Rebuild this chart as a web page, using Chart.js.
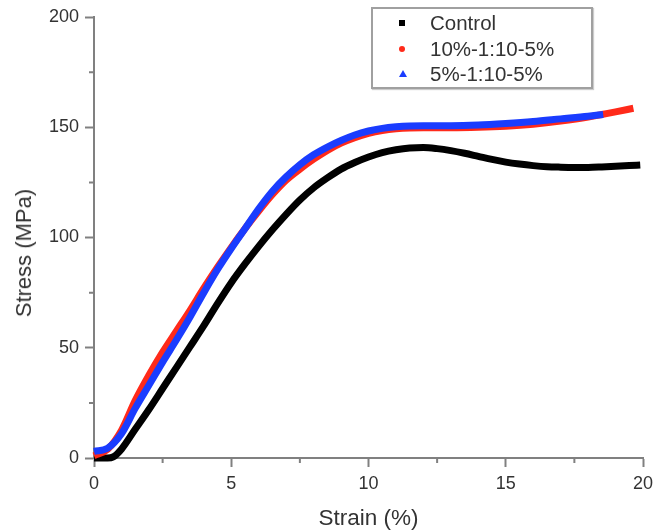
<!DOCTYPE html>
<html>
<head>
<meta charset="utf-8">
<script src="https://cdn.jsdelivr.net/npm/chart.js@4.4.1/dist/chart.umd.min.js"></script>
<style>
  html, body { margin: 0; padding: 0; background: #fff; }
  #wrap { position: relative; width: 654px; height: 532px; }
  #legend {
    position: absolute; left: 371px; top: 7px; width: 218px; height: 78px;
    border: 2px solid #a0a0a0; box-shadow: 1px 1px 1px #ccc; background: #fff;
    font-family: "Liberation Sans", Arial, sans-serif; font-size: 20.5px; color: #333;
  }
  .row { position: absolute; left: 0; height: 22px; line-height: 22px; }
  .mk { position: absolute; left: 26px; top: 8px; width: 6px; height: 6px; }
  .txt { position: absolute; left: 57px; top: 0; white-space: nowrap; }
  #ytitle {
    position: absolute; left: 24px; top: 253px; transform: translate(-50%, -50%) rotate(-90deg);
    font-family: "Liberation Sans", Arial, sans-serif; font-size: 22px; color: #333; white-space: nowrap;
  }
</style>
</head>
<body>
<div id="wrap">
  <canvas id="c" width="654" height="532"></canvas>
  <div id="ytitle">Stress (MPa)</div>
  <div id="legend">
    <div class="row" style="top:3px"><div class="mk" style="background:#000"></div><div class="txt">Control</div></div>
    <div class="row" style="top:29px"><div class="mk" style="background:#ff2a1a;border-radius:50%"></div><div class="txt">10%-1:10-5%</div></div>
    <div class="row" style="top:54px"><div class="mk" style="width:0;height:0;left:26px;top:7px;border-left:4px solid transparent;border-right:4px solid transparent;border-bottom:7px solid #1a3cff;background:none"></div><div class="txt">5%-1:10-5%</div></div>
  </div>
</div>
<script>
// Series names
const seriesNames = ["Control", "10%-1:10-5%", "5%-1:10-5%"];

// Control (black): strain (%) and stress (MPa)
const controlStrain = [0, 0.5, 0.7, 1.0, 1.5, 2.0, 2.5, 3.0, 3.5, 4.0, 4.5, 5.0, 5.5, 6.0, 6.5, 7.0, 7.5, 8.0, 8.5, 9.0, 9.5, 10.0, 10.5, 11.0, 11.5, 12.0, 12.5, 13.0, 13.5, 14.0, 14.5, 15.0, 15.5, 16.0, 16.5, 17.0, 17.5, 18.0, 18.5, 19.0, 19.5, 19.9];
const controlStress = [0, 0, 0.5, 4, 13, 22, 31.5, 41, 50.5, 60, 70, 79.5, 88, 96, 103.5, 110.5, 117, 122.5, 127, 131, 134, 136.5, 138.5, 139.8, 140.6, 140.8, 140.3, 139.4, 138.2, 136.8, 135.4, 134.2, 133.3, 132.6, 132.1, 131.9, 131.8, 131.8, 132.0, 132.3, 132.6, 132.9];

// 10%-1:10-5% (red)
const redStrain = [0, 0.5, 1.0, 1.5, 2.0, 2.5, 3.0, 3.5, 4.0, 4.5, 5.0, 5.5, 6.0, 6.5, 7.0, 7.5, 8.0, 8.5, 9.0, 9.5, 10.0, 10.5, 11.0, 11.5, 12.0, 13.0, 14.0, 15.0, 16.0, 17.0, 18.0, 18.5, 19.0, 19.65];
const redStress = [1, 4, 12.5, 26, 37.5, 48, 57.5, 67, 77, 86.5, 95.5, 104, 112, 119.5, 126, 131, 135.5, 139.5, 142.8, 145.3, 147.2, 148.5, 149.3, 149.7, 149.8, 149.8, 150, 150.5, 151.4, 152.8, 154.6, 155.8, 157, 158.6];

// 5%-1:10-5% (blue)
const blueStrain = [0, 0.5, 1.0, 1.5, 2.0, 2.5, 3.0, 3.5, 4.0, 4.5, 5.0, 5.5, 6.0, 6.5, 7.0, 7.5, 8.0, 8.5, 9.0, 9.5, 10.0, 10.5, 11.0, 11.5, 12.0, 13.0, 14.0, 15.0, 16.0, 17.0, 18.0, 18.55];
const blueStress = [3, 4.5, 11, 22.5, 33, 43.5, 53.5, 64, 75, 85.5, 95, 104, 113, 121, 127.5, 133, 137.5, 141, 144, 146.5, 148.3, 149.5, 150.2, 150.6, 150.7, 150.7, 151, 151.7, 152.6, 153.8, 155, 155.8];

// Axis ticks
const xMajorTicks = [0, 5, 10, 15, 20];
const xMinorTicks = [2.5, 7.5, 12.5, 17.5];
const yMajorTicks = [0, 50, 100, 150, 200];
const yMinorTicks = [25, 75, 125, 175];

const toXY = (xs, ys) => xs.map((x, i) => ({x: x, y: ys[i]}));

const AXIS_COLOR = '#808080';
const TEXT_COLOR = '#333333';
const FONT = '"Liberation Sans", Arial, sans-serif';

const minorTicks = {
  id: 'minorTicks',
  afterDraw(chart) {
    const ctx = chart.ctx;
    const xs = chart.scales.x, ys = chart.scales.y;
    ctx.save();
    ctx.strokeStyle = AXIS_COLOR;
    ctx.lineWidth = 2;
    ctx.beginPath();
    xMinorTicks.forEach(v => {
      const px = xs.getPixelForValue(v);
      ctx.moveTo(px, chart.chartArea.bottom);
      ctx.lineTo(px, chart.chartArea.bottom + 5);
    });
    yMinorTicks.forEach(v => {
      const py = ys.getPixelForValue(v);
      ctx.moveTo(chart.chartArea.left, py);
      ctx.lineTo(chart.chartArea.left - 5, py);
    });
    ctx.stroke();
    ctx.restore();
  }
};

const lineStyle = { borderWidth: 7, pointRadius: 0, cubicInterpolationMode: 'monotone', clip: 10 };

new Chart(document.getElementById('c'), {
  type: 'line',
  data: {
    datasets: [
      Object.assign({ label: seriesNames[0], data: toXY(controlStrain, controlStress), borderColor: '#000000', backgroundColor: '#000000', order: 2 }, lineStyle),
      Object.assign({ label: seriesNames[1], data: toXY(redStrain, redStress), borderColor: '#ff2a1a', backgroundColor: '#ff2a1a', order: 1 }, lineStyle),
      Object.assign({ label: seriesNames[2], data: toXY(blueStrain, blueStress), borderColor: '#1a3cff', backgroundColor: '#1a3cff', order: 0 }, lineStyle)
    ]
  },
  options: {
    responsive: false,
    animation: false,
    layout: { padding: { top: 17, right: 11, left: 0, bottom: 0 } },
    plugins: { legend: { display: false }, tooltip: { enabled: false } },
    scales: {
      x: {
        type: 'linear', min: 0, max: 20,
        afterBuildTicks: s => { s.ticks = xMajorTicks.map(v => ({value: v})); },
        afterFit: s => { s.height = 74; s.paddingLeft = 0; s.paddingRight = 0; },
        grid: { drawOnChartArea: false, drawTicks: true, tickLength: 9, tickColor: AXIS_COLOR, tickWidth: 2 },
        border: { display: true, color: AXIS_COLOR, width: 2 },
        ticks: { color: TEXT_COLOR, font: { family: FONT, size: 18 }, padding: 6, maxRotation: 0 },
        title: { display: true, text: 'Strain (%)', color: TEXT_COLOR, font: { family: FONT, size: 22.5 }, padding: { bottom: 0, top: 0 } }
      },
      y: {
        type: 'linear', min: 0, max: 200,
        afterBuildTicks: s => { s.ticks = yMajorTicks.map(v => ({value: v})); },
        afterFit: s => { s.width = 94; s.paddingTop = 0; s.paddingBottom = 0; },
        grid: { drawOnChartArea: false, drawTicks: true, tickLength: 9, tickColor: AXIS_COLOR, tickWidth: 2 },
        border: { display: true, color: AXIS_COLOR, width: 2 },
        ticks: { color: TEXT_COLOR, font: { family: FONT, size: 18 }, padding: 6 },
        title: { display: false }
      }
    }
  },
  plugins: [minorTicks]
});
</script>
</body>
</html>
